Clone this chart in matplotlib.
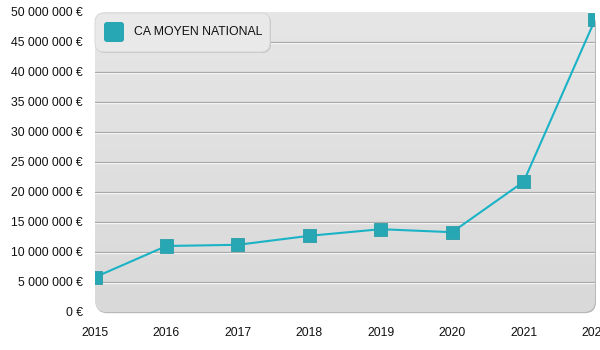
import matplotlib
matplotlib.use("Agg")
import matplotlib.pyplot as plt
import matplotlib.patches as mpatches
import numpy as np
from matplotlib.ticker import FuncFormatter, MultipleLocator

# ---- data ---------------------------------------------------------
YEARS = [2015, 2016, 2017, 2018, 2019, 2020, 2021, 2022]
CA_MOYEN = [5.8e6, 11.0e6, 11.2e6, 12.7e6, 13.8e6, 13.3e6, 21.7e6, 48.7e6]
SERIES_LABEL = "CA MOYEN NATIONAL"

LINE_COLOR = "#1ab3c6"
MARKER_COLOR = "#26a7b3"

plt.rcParams["font.family"] = ["Liberation Sans", "DejaVu Sans"]

fig = plt.figure(figsize=(6, 3.5), dpi=100)
ax = fig.add_axes([95 / 600, 38 / 350, 500 / 600, 300 / 350])
ax.set_xlim(YEARS[0], YEARS[-1])
ax.set_ylim(0, 50e6)
ax.patch.set_visible(False)
for s in ax.spines.values():
    s.set_visible(False)

# rounded, gradient background of the plot area
aspect = 500 / 300
shadow = mpatches.FancyBboxPatch((0.002, -0.004), 1.0, 1.0,
                                 boxstyle="round,pad=0,rounding_size=0.022",
                                 mutation_aspect=aspect, transform=ax.transAxes,
                                 facecolor="#b8b8b8", edgecolor="none",
                                 zorder=0, clip_on=False)
ax.add_patch(shadow)
bg = mpatches.FancyBboxPatch((0, 0), 1.0, 1.0,
                             boxstyle="round,pad=0,rounding_size=0.022",
                             mutation_aspect=aspect, transform=ax.transAxes,
                             facecolor="none", edgecolor="none",
                             zorder=0.1, clip_on=False)
ax.add_patch(bg)
grad = np.linspace(0, 1, 256).reshape(-1, 1)
im = ax.imshow(grad, cmap=matplotlib.colors.LinearSegmentedColormap.from_list(
    "bg", ["#d9d9d9", "#e6e6e6"]), origin="lower", aspect="auto",
    extent=[0, 1, 0, 1], transform=ax.transAxes, zorder=0.2)
im.set_clip_path(bg)

# grid lines with a white highlight underneath
for v in np.arange(5e6, 50e6, 5e6):
    ax.axhline(v - 1.7e5, color="white", lw=0.9, zorder=0.5)
    ax.axhline(v, color="#a9a9a9", lw=0.9, zorder=0.6)

# series (per-point sizes so markers at the edges get clipped by the axes)
ax.plot(YEARS, CA_MOYEN, color=LINE_COLOR, lw=1.5, zorder=2)
ax.scatter(YEARS, CA_MOYEN, marker="s", s=np.full(len(YEARS), 90.0),
           facecolor=MARKER_COLOR, edgecolor="#2b9ea9", linewidth=0.6,
           zorder=3, clip_on=True)

# axes formatting
ax.yaxis.set_major_locator(MultipleLocator(5e6))
ax.yaxis.set_major_formatter(FuncFormatter(
    lambda v, _: "{:,.0f}".format(v).replace(",", " ") + " €"))
ax.set_xticks(YEARS)
ax.set_xticklabels([str(y) for y in YEARS])
ax.tick_params(axis="y", length=0, pad=8.5, labelsize=8.8, colors="#111111")
ax.tick_params(axis="x", length=0, pad=11, labelsize=8.8, colors="#111111")

# legend box
lg_shadow = mpatches.FancyBboxPatch((96 / 600, (350 - 53) / 350), 175 / 600, 39 / 350,
                                    boxstyle="round,pad=0,rounding_size=0.015",
                                    mutation_aspect=600 / 350,
                                    transform=fig.transFigure,
                                    facecolor="#c4c4c4", edgecolor="none", zorder=4)
fig.patches.append(lg_shadow)
lg = mpatches.FancyBboxPatch((95 / 600, (350 - 52) / 350), 175 / 600, 39 / 350,
                             boxstyle="round,pad=0,rounding_size=0.015",
                             mutation_aspect=600 / 350,
                             transform=fig.transFigure,
                             facecolor="#e9e9e9", edgecolor="#d4d4d4",
                             lw=0.6, zorder=5)
fig.patches.append(lg)
sw = mpatches.FancyBboxPatch((104 / 600, (350 - 42) / 350), 20 / 600, 20 / 350,
                             boxstyle="round,pad=0,rounding_size=0.005",
                             mutation_aspect=600 / 350,
                             transform=fig.transFigure,
                             facecolor=MARKER_COLOR, edgecolor="none", zorder=6)
fig.patches.append(sw)
fig.text(134 / 600, (350 - 32) / 350, SERIES_LABEL, fontsize=8.8,
         va="center", ha="left", color="#111111", zorder=10)

fig.savefig("out.png", dpi=100)
